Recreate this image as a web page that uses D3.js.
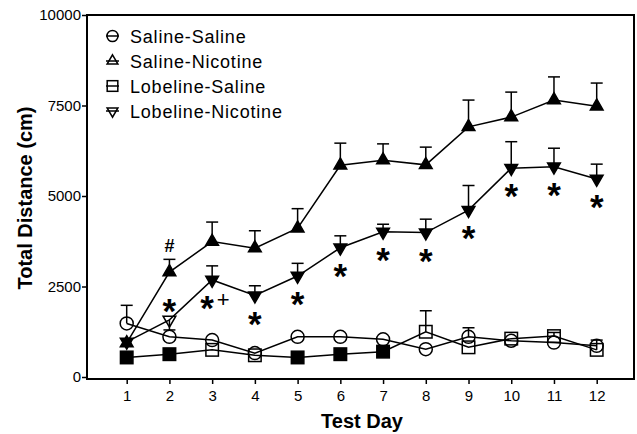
<!DOCTYPE html>
<html>
<head>
<meta charset="utf-8">
<script src="https://cdn.jsdelivr.net/npm/d3@7.9.0/dist/d3.min.js"></script>
<style>
  body { margin: 0; background: #fff; }
  svg { display: block; font-family: Arial, "Liberation Sans", sans-serif; }
</style>
</head>
<body>
<svg id="chart" width="637" height="434"></svg>
<script>
// Data (mean, SEM in cm)
const days = [1, 2, 3, 4, 5, 6, 7, 8, 9, 10, 11, 12];

const salSal = [1480, 1110, 1020, 660, 1110, 1110, 1040, 770, 1110, 1000, 950, 860];
const salSalErr = [500, 0, 0, 0, 0, 0, 0, 0, 250, 0, 0, 0];

const salNic = [940, 2900, 3740, 3560, 4110, 5850, 5990, 5860, 6910, 7180, 7650, 7480];
const salNicErr = [0, 350, 540, 480, 540, 610, 450, 490, 740, 690, 640, 640];

const lobSal = [540, 630, 750, 600, 540, 630, 700, 1250, 820, 1060, 1130, 750];
const lobSalErr = [0, 0, 0, 0, 0, 0, 0, 580, 0, 0, 100, 270];
const lobSalFilled = [1, 1, 0, 0, 1, 1, 1, 0, 0, 0, 0, 0];

const lobNic = [970, 1580, 2680, 2250, 2790, 3570, 4010, 3990, 4610, 5770, 5810, 5470];
const lobNicErr = [0, -280, 390, 270, 350, 330, 210, 370, 680, 730, 510, 410];
const lobNicFilled = [1, 0, 1, 1, 1, 1, 1, 1, 1, 1, 1, 1];

// significance marks on Lobeline-Nicotine
const starDays = [2, 3, 4, 5, 6, 7, 8, 9, 10, 11, 12];

const yTicks = [0, 2500, 5000, 7500, 10000];
const legendLabels = ["Saline-Saline", "Saline-Nicotine", "Lobeline-Saline", "Lobeline-Nicotine"];

const svg = d3.select("#chart");

const x = d3.scaleLinear().domain([1, 12]).range([126.7, 596.7]);
const y = d3.scaleLinear().domain([0, 10000]).range([377, 15]);

// frame
svg.append("rect")
    .attr("x", 87).attr("y", 15)
    .attr("width", 634 - 87).attr("height", 379 - 15)
    .attr("fill", "none").attr("stroke", "#000").attr("stroke-width", 2);

// axes
const yAxis = svg.append("g")
    .attr("transform", "translate(87,0)")
    .call(d3.axisLeft(y).tickValues(yTicks).tickSize(5).tickPadding(1).tickFormat(d3.format("d")));
const xAxis = svg.append("g")
    .attr("transform", "translate(0,379)")
    .call(d3.axisBottom(x).tickValues(days).tickSize(5).tickPadding(6));
[yAxis, xAxis].forEach(a => {
    a.select(".domain").remove();
    a.selectAll(".tick line").attr("stroke", "#000").attr("stroke-width", 1.5);
    a.selectAll("text").attr("fill", "#000").style("font-size", "15px").style("font-family", "Arial, 'Liberation Sans', sans-serif");
});

svg.append("text")
    .attr("x", 362).attr("y", 428)
    .attr("text-anchor", "middle")
    .style("font-size", "20px").style("font-weight", "bold")
    .text("Test Day");

svg.append("text")
    .attr("transform", "translate(32,198) rotate(-90)")
    .attr("text-anchor", "middle")
    .style("font-size", "20px").style("font-weight", "bold")
    .text("Total Distance (cm)");

// symbols
function drawMarker(g, kind, cx, cy, filled, scale = 1) {
    const fill = filled ? "#000" : "none";
    let m;
    if (kind === "circle") {
        m = g.append("circle").attr("cx", cx).attr("cy", cy).attr("r", 6.5 * scale);
    } else if (kind === "square") {
        const s = 12.5 * scale;
        m = g.append("rect").attr("x", cx - s / 2).attr("y", cy - s / 2).attr("width", s).attr("height", s);
    } else {
        const rot = kind === "down" ? 180 : 0;
        m = g.append("path").attr("d", d3.symbol().type(d3.symbolTriangle).size(70 * scale * scale)())
            .attr("transform", `translate(${cx},${cy}) rotate(${rot})`);
    }
    m.attr("fill", fill).attr("stroke", "#000").attr("stroke-width", 1.5);
}

const series = [
    { vals: salSal, err: salSalErr, kind: "circle", filled: days.map(() => 0) },
    { vals: lobSal, err: lobSalErr, kind: "square", filled: lobSalFilled },
    { vals: salNic, err: salNicErr, kind: "up", filled: days.map(() => 1) },
    { vals: lobNic, err: lobNicErr, kind: "down", filled: lobNicFilled }
];

const line = d3.line().x((d, i) => x(days[i])).y(d => y(d));
const plot = svg.append("g");

series.forEach(s => {
    // error bars
    s.err.forEach((e, i) => {
        if (!e) return;
        const cx = x(days[i]);
        const y0 = y(s.vals[i]);
        const y1 = y(s.vals[i] + e);
        plot.append("line").attr("x1", cx).attr("x2", cx).attr("y1", y0).attr("y2", y1)
            .attr("stroke", "#000").attr("stroke-width", 1.5);
        plot.append("line").attr("x1", cx - 6).attr("x2", cx + 6).attr("y1", y1).attr("y2", y1)
            .attr("stroke", "#000").attr("stroke-width", 1.5);
    });
    plot.append("path").datum(s.vals).attr("d", line)
        .attr("fill", "none").attr("stroke", "#000").attr("stroke-width", 1.5);
});
series.forEach(s => {
    s.vals.forEach((v, i) => drawMarker(plot, s.kind, x(days[i]), y(v), s.filled[i]));
});

// significance marks
starDays.forEach(d => {
    const i = days.indexOf(d);
    const above = lobNicErr[i] < 0;
    const dx = d === 3 ? -5 : 0;
    svg.append("text")
        .attr("x", x(d) + dx)
        .attr("y", y(lobNic[i]) + (above ? 3 : 40))
        .attr("text-anchor", "middle").attr("fill", "#000")
        .style("font-size", "35px").style("font-weight", "bold")
        .text("*");
});
svg.append("text")
    .attr("x", x(3) + 11).attr("y", y(lobNic[2]) + 27)
    .attr("text-anchor", "middle").attr("fill", "#000")
    .style("font-size", "22px")
    .text("+");
svg.append("text")
    .attr("x", x(2)).attr("y", y(salNic[1] + salNicErr[1]) - 7)
    .attr("text-anchor", "middle").attr("fill", "#000")
    .style("font-size", "18px").style("font-weight", "bold")
    .text("#");

// legend
const kinds = ["circle", "up", "square", "down"];
const legend = svg.append("g");
legendLabels.forEach((lab, i) => {
    const ly = 36 + i * 25;
    legend.append("line").attr("x1", 106).attr("x2", 119).attr("y1", ly).attr("y2", ly)
        .attr("stroke", "#000").attr("stroke-width", 1.5);
    drawMarker(legend, kinds[i], 112.5, ly, false, 0.85);
    legend.append("text")
        .attr("x", 130).attr("y", ly + 6.5).attr("fill", "#000")
        .style("font-size", "18px").style("letter-spacing", "0.8px")
        .text(lab);
});
</script>
</body>
</html>
